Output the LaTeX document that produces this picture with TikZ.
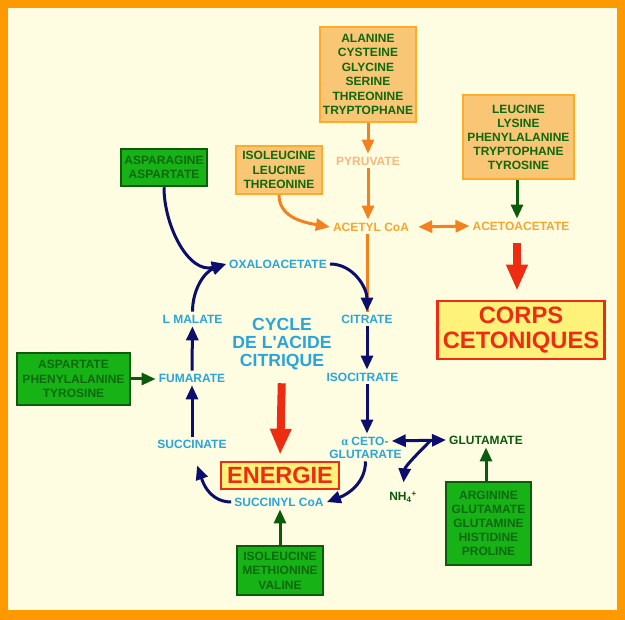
\documentclass[tikz,border=0pt]{standalone}
\usepackage{fontspec}
\setmainfont{Liberation Sans}
\newfontfamily\greekfont{Liberation Serif}
\usetikzlibrary{arrows.meta,calc}

\definecolor{frameorange}{RGB}{255,153,0}
\definecolor{cream}{RGB}{255,253,225}
\definecolor{boxorange}{RGB}{249,198,118}
\definecolor{edgeorange}{RGB}{255,170,40}
\definecolor{boxgreen}{RGB}{22,178,22}
\definecolor{edgegreen}{RGB}{12,90,12}
\definecolor{txtgreen}{RGB}{14,105,14}
\definecolor{cycleblue}{RGB}{40,165,220}
\definecolor{navy}{RGB}{12,14,110}
\definecolor{arroworange}{RGB}{244,128,32}
\definecolor{lightorange}{RGB}{249,183,121}
\definecolor{midorange}{RGB}{246,165,49}
\definecolor{alertred}{RGB}{238,44,18}
\definecolor{paleyellow}{RGB}{255,242,122}

\begin{document}
\begin{tikzpicture}[x=1pt, y=1pt,
    every node/.style={font=\bfseries\fontsize{12}{14.4}\selectfont, inner sep=3pt, align=center},
    aminobox/.style={draw=edgeorange, fill=boxorange, line width=2pt, text=txtgreen, inner sep=0pt},
    greenbox/.style={draw=edgegreen, fill=boxgreen, line width=2.5pt, text=txtgreen, inner sep=0pt},
    alertbox/.style={draw=alertred, fill=paleyellow, line width=2.5pt, text=alertred, inner sep=0pt},
    metab/.style={text=cycleblue},
    navyarrow/.style={draw=navy, line width=3pt, -{Triangle[length=14pt,width=12pt]}},
    orangearrow/.style={draw=arroworange, line width=3pt, -{Triangle[length=14pt,width=12pt]}},
    greenarrow/.style={draw=edgegreen, line width=3pt, -{Triangle[length=14pt,width=12pt]}},
    bigarrow/.style={draw=alertred, line width=8pt, -{Triangle[length=26pt,width=20pt]}}]

        % Frame and background
        \useasboundingbox (0,0) rectangle (625,-620);
        \fill[frameorange] (0,0) rectangle (625,-620);
        \fill[cream] (8,-8) rectangle (617,-610);

        % Amino acid boxes (orange)
        \node[aminobox, minimum width=96pt, minimum height=95pt] (glucoaa) at (368,-74.5)
            {ALANINE\\CYSTEINE\\GLYCINE\\SERINE\\THREONINE\\TRYPTOPHANE};
        \node[aminobox, minimum width=86pt, minimum height=48pt] (isolbox) at (279,-170)
            {ISOLEUCINE\\LEUCINE\\THREONINE};
        \node[aminobox, minimum width=111pt, minimum height=84pt, font=\bfseries\fontsize{12}{14}\selectfont] (ketobox) at (518.5,-137)
            {LEUCINE\\LYSINE\\PHENYLALANINE\\TRYPTOPHANE\\TYROSINE};

        % Amino acid boxes (green)
        \node[greenbox, minimum width=86pt, minimum height=37pt] (asnbox) at (164,-167.5)
            {ASPARAGINE\\ASPARTATE};
        \node[greenbox, minimum width=113pt, minimum height=52pt] (fumbox) at (73.5,-379)
            {ASPARTATE\\PHENYLALANINE\\TYROSINE};
        \node[greenbox, minimum width=86pt, minimum height=49pt] (succbox) at (280,-570.5)
            {ISOLEUCINE\\METHIONINE\\VALINE};
        \node[greenbox, minimum width=85pt, minimum height=83pt, font=\bfseries\fontsize{12}{14}\selectfont] (glubox) at (488.5,-523.5)
            {ARGININE\\GLUTAMATE\\GLUTAMINE\\HISTIDINE\\PROLINE};

        % Metabolites
        \node[text=lightorange] (pyruvate) at (368,-161) {PYRUVATE};
        \node[text=midorange] (acetyl) at (371,-227) {ACETYL CoA};
        \node[text=midorange] (acetoac) at (521,-226) {ACETOACETATE};
        \node[metab] (oxalo) at (278,-264) {OXALOACETATE};
        \node[metab] (citrate) at (367,-319) {CITRATE};
        \node[metab] (isocitrate) at (362.5,-377) {ISOCITRATE};
        \node[metab] (alphaone) at (365,-441) {{\greekfont\bfseries α} CETO-};
        \node[metab] (alphatwo) at (365.5,-454) {GLUTARATE};
        \node[metab] (succinyl) at (279,-502) {SUCCINYL CoA};
        \node[metab] (succinate) at (192,-444) {SUCCINATE};
        \node[metab] (fumarate) at (192,-378) {FUMARATE};
        \node[metab] (malate) at (192.5,-319) {L MALATE};
        \node[text=edgegreen] (glutamate) at (486,-440) {GLUTAMATE};
        \node[text=edgegreen] (nh4) at (403,-497) {NH\textsubscript{4}\textsuperscript{+}};

        % Cycle title and outputs
        \node[metab, font=\bfseries\fontsize{17.6}{18.2}\selectfont] (cyclename) at (282,-344)
            {CYCLE\\DE L\textquotesingle ACIDE\\CITRIQUE};
        \node[alertbox, minimum width=118pt, minimum height=27pt, font=\bfseries\fontsize{23.5}{24}\selectfont] (energie) at (280,-475.5) {ENERGIE};
        \node[alertbox, minimum width=167pt, minimum height=58pt, font=\bfseries\fontsize{23.7}{25}\selectfont] (corps) at (521,-330) {CORPS\\CETONIQUES};

        % Orange pathway
        \draw[orangearrow] (glucoaa.south) -- (glucoaa.south |- pyruvate.north);
        \draw[orangearrow] (pyruvate.south) -- (pyruvate.south |- acetyl.north);
        \draw[orangearrow] (isolbox.south) to[out=-90, in=170] (acetyl.west);
        \draw[orangearrow, {Triangle[length=14pt,width=12pt]}-{Triangle[length=14pt,width=12pt]}, shorten <=6pt]
            (acetyl.east) -- (acetoac.west);
        \draw[draw=arroworange, line width=3pt] (acetyl.south -| citrate) -- (citrate.north);

        % Ketone bodies
        \draw[greenarrow] (ketobox.south -| 517,0) -- (acetoac.north -| 517,0);
        \draw[bigarrow, shorten <=10pt, shorten >=9pt] (acetoac.south -| 517,0) -- (corps.north -| 517,0);

        % Citric acid cycle
        \draw[navyarrow] (oxalo.east) to[out=0, in=90] (citrate.north);
        \draw[navyarrow] (citrate.south) -- (citrate.south |- isocitrate.north);
        \draw[navyarrow] (citrate.south |- isocitrate.south) -- (citrate.south |- alphaone.north);
        \draw[navyarrow] (alphatwo.south) to[out=-90, in=20] (succinyl.east);
        \draw[navyarrow, shorten >=15pt] (succinyl.west) to[out=180, in=-70] (succinate.south);
        \draw[navyarrow] (succinate) -- (fumarate);
        \draw[navyarrow] (fumarate) -- (malate);
        \draw[navyarrow] (malate.north) to[out=90, in=200] (oxalo.west);
        \draw[navyarrow] (asnbox.south) to[out=-90, in=195] (oxalo.west);

        % Glutamate exchange
        \draw[navyarrow, {Triangle[length=14pt,width=12pt]}-{Triangle[length=14pt,width=12pt]}]
            (alphaone.east) -- (glutamate.west);
        \draw[navyarrow, shorten >=6pt] ($(alphaone.east)!0.72!(glutamate.west)$) to[out=225, in=85] (nh4.north);

        % Entry points from green boxes
        \draw[greenarrow] (fumbox.east) -- (fumbox.east -| fumarate.west);
        \draw[greenarrow] (succbox.north) -- (succbox.north |- succinyl.south);
        \draw[greenarrow] (glubox.north -| glutamate) -- (glutamate.south);

        % Energy output
        \draw[bigarrow, shorten <=10pt, shorten >=6pt] (cyclename.south) -- (energie.north);
    \end{tikzpicture}
\end{document}
